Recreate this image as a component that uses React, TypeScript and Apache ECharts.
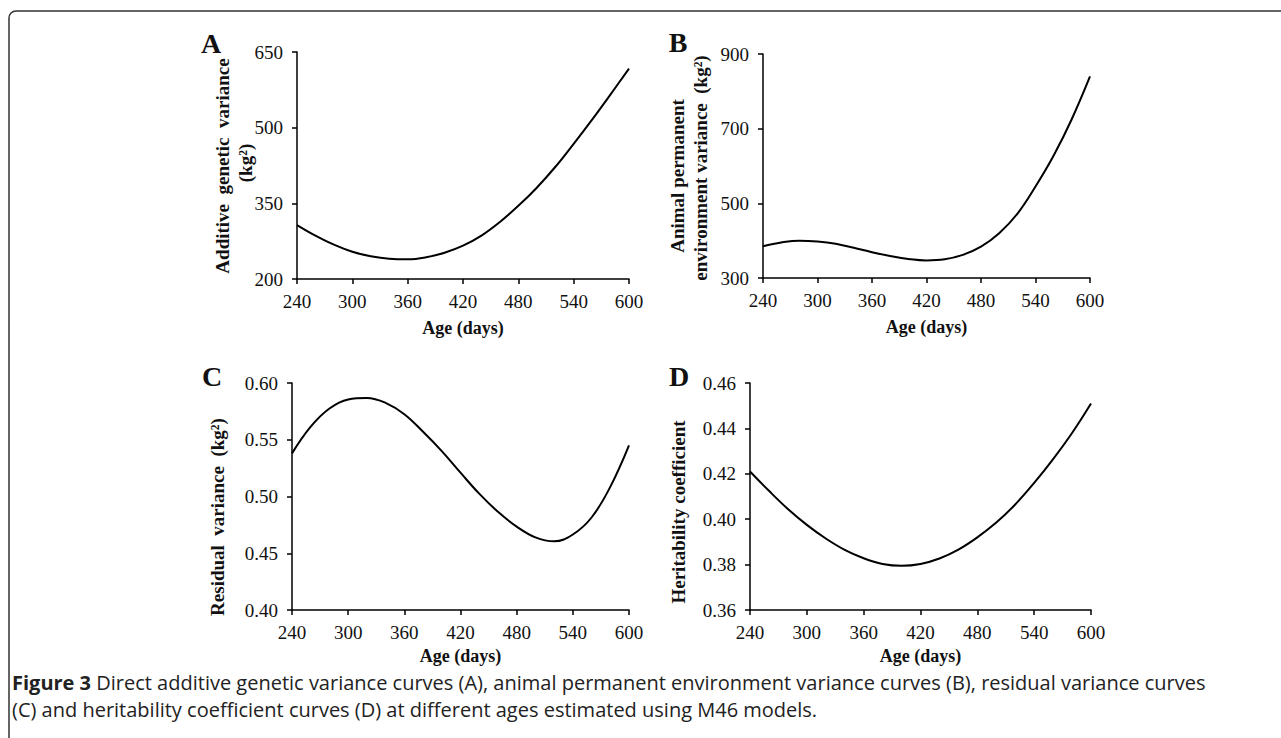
import React, { useEffect, useRef } from "react";
import * as echarts from "echarts";

const ages = [240, 260, 280, 300, 320, 340, 360, 380, 400, 420, 440, 460, 480, 500, 520, 540, 560, 580, 600];
const additiveVar = [307, 286, 268, 254, 245, 240, 239, 243, 252, 266, 286, 313, 345, 381, 422, 468, 516, 566, 617];
const permEnvVar = [385, 395, 400, 398, 392, 381, 369, 359, 351, 347, 350, 362, 384, 420, 472, 545, 628, 726, 840];
const residualVar = [0.538, 0.5615, 0.5775, 0.5855, 0.5868, 0.5825, 0.5725, 0.557, 0.54, 0.521, 0.5025, 0.4865, 0.4735, 0.464, 0.4605, 0.4665, 0.4815, 0.5085, 0.545];
const heritability = [0.421, 0.4125, 0.4045, 0.3975, 0.3915, 0.3865, 0.3828, 0.3803, 0.3795, 0.3803, 0.3827, 0.3866, 0.392, 0.3985, 0.4065, 0.416, 0.4265, 0.438, 0.451];

const xTicks = { min: 240, max: 600, interval: 60 };
const yRanges = [
  { min: 200, max: 650, interval: 150, digits: 0 },
  { min: 300, max: 900, interval: 200, digits: 0 },
  { min: 0.4, max: 0.6, interval: 0.05, digits: 2 },
  { min: 0.36, max: 0.46, interval: 0.02, digits: 2 },
];
const xAxisTitle = "Age (days)";
const captionBold = "Figure 3";
const captionLine1 = " Direct additive genetic variance curves (A), animal permanent environment variance curves (B), residual variance curves";
const captionLine2 = "(C) and heritability coefficient curves (D) at different ages estimated using M46 models.";

const SERIF = "'Liberation Serif', 'Times New Roman', serif";
const SANS = "'Open Sans', 'Noto Sans', sans-serif";

export default function App() {
  const ref = useRef<HTMLDivElement>(null);
  useEffect(() => {
    if (!ref.current) return;
    const chart = echarts.init(ref.current, null, { renderer: "svg" });
    const grids = [
      { left: 297, top: 52, width: 332, height: 227 },
      { left: 763, top: 54, width: 327, height: 224 },
      { left: 292, top: 383, width: 337, height: 227 },
      { left: 750, top: 383, width: 341, height: 227 },
    ];
    const nameGaps = [40, 40, 37, 37];
    const seriesData = [additiveVar, permEnvVar, residualVar, heritability];
    const axisLine = { show: true, lineStyle: { color: "#000", width: 1.5 } };
    const axisTick = { show: true, inside: false, length: 5, lineStyle: { color: "#000", width: 1.5 } };

    const xAxis = grids.map((_, i) => ({
      type: "value",
      gridIndex: i,
      min: xTicks.min,
      max: xTicks.max,
      interval: xTicks.interval,
      axisLine,
      axisTick,
      splitLine: { show: false },
      axisLabel: { color: "#111", fontFamily: SERIF, fontSize: 19, margin: 13 },
      name: xAxisTitle,
      nameLocation: "middle",
      nameGap: nameGaps[i],
      nameTextStyle: { color: "#111", fontFamily: SERIF, fontSize: 18, fontWeight: "bold" },
    }));
    const yAxis = grids.map((_, i) => ({
      type: "value",
      gridIndex: i,
      min: yRanges[i].min,
      max: yRanges[i].max,
      interval: yRanges[i].interval,
      axisLine,
      axisTick,
      splitLine: { show: false },
      axisLabel: {
        color: "#111",
        fontFamily: SERIF,
        fontSize: 19,
        margin: 14,
        formatter: (v: number) => v.toFixed(yRanges[i].digits),
      },
    }));
    const series = seriesData.map((vals, i) => ({
      type: "line",
      xAxisIndex: i,
      yAxisIndex: i,
      smooth: 0.4,
      showSymbol: false,
      symbol: "none",
      lineStyle: { color: "#000", width: 2 },
      data: ages.map((a, k) => [a, vals[k]]),
    }));

    const letter = (t: string, x: number, y: number) => ({
      type: "text",
      x,
      y,
      style: { text: t, font: `bold 28px ${SERIF}`, fill: "#111", align: "center", verticalAlign: "middle" },
    });
    const yTitle = (t: string, x: number, y: number) => ({
      type: "text",
      x,
      y,
      rotation: Math.PI / 2,
      style: { text: t, font: `bold 19px ${SERIF}`, fill: "#111", align: "center", verticalAlign: "middle" },
    });

    chart.setOption({
      animation: false,
      grid: grids,
      xAxis,
      yAxis,
      series,
      graphic: [
        {
          type: "rect",
          shape: { x: 9, y: 11, width: 1300, height: 800, r: 7 },
          style: { fill: "none", stroke: "#333", lineWidth: 1.5 },
          silent: true,
        },
        letter("A", 211, 43),
        letter("B", 678, 42),
        letter("C", 212, 376),
        letter("D", 679, 376),
        yTitle("Additive  genetic  variance", 222, 166),
        yTitle("(kg²)", 245, 163),
        yTitle("Animal permanent", 677, 176),
        yTitle("environment variance  (kg²)", 700, 168),
        yTitle("Residual  variance  (kg²)", 217, 517),
        yTitle("Heritability coefficient", 678, 512),
        {
          type: "text",
          x: 12,
          y: 682,
          style: {
            text: `{b|${captionBold}}${captionLine1}`,
            font: `20px ${SANS}`,
            fill: "#222",
            verticalAlign: "middle",
            rich: { b: { fontWeight: "bold", fontSize: 20, fontFamily: SANS, fill: "#222" } },
          },
        },
        {
          type: "text",
          x: 12,
          y: 709,
          style: { text: captionLine2, font: `20px ${SANS}`, fill: "#222", verticalAlign: "middle" },
        },
      ],
    });
    return () => chart.dispose();
  }, []);
  return (
    <div
      ref={ref}
      style={{ position: "absolute", left: 0, top: 0, width: 1281, height: 738, background: "#fff" }}
    />
  );
}
